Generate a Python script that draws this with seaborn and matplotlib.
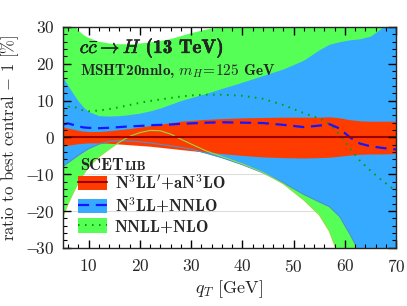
import numpy as np
import pandas as pd
import matplotlib
matplotlib.use("Agg")
import matplotlib.pyplot as plt
import matplotlib.patheffects as pe
import seaborn as sns
from matplotlib.patches import Patch
from matplotlib.lines import Line2D
from matplotlib.ticker import MultipleLocator, FuncFormatter

# ------------------ values ------------------
qT = [5, 6, 7, 8, 9, 10, 12, 14, 16, 18, 20, 22, 24, 26, 28, 30, 33, 36, 40,
      44, 48, 52, 55, 57, 59, 61, 63, 65, 67, 70]

# N3LL'+aN3LO band (red)
red_hi = [2.9, 2.5, 2.2, 1.9, 1.7, 1.6, 1.6, 1.8, 2.1, 2.4, 2.8, 3.2, 3.6, 4.0, 4.4,
          4.6, 4.9, 5.1, 5.3, 5.4, 5.5, 5.5, 5.5, 5.6, 5.3, 4.8, 4.5, 4.4, 4.4, 4.4]
red_lo = [-2.4, -2.1, -1.9, -1.7, -1.6, -1.5, -1.5, -1.6, -1.8, -2.0, -2.2, -2.4, -2.7,
          -3.0, -3.3, -3.6, -4.0, -4.4, -4.9, -5.3, -5.5, -5.6, -5.5, -5.4, -5.1, -4.8,
          -4.6, -4.5, -4.5, -4.4]

# N3LL+NNLO band (blue) and its central curve
blue_hi = [16.2, 14.0, 11.8, 9.8, 8.2, 7.0, 5.9, 5.8, 5.9, 6.2, 6.6, 7.2, 8.0, 9.0, 10.0,
           10.8, 12.0, 13.3, 15.0, 16.8, 18.6, 21.0, 23.8, 25.3, 26.0, 26.5, 26.8, 27.5,
           29.5, 33.0]
blue_lo = [-7.8, -6.8, -5.8, -4.8, -3.9, -3.0, -1.8, -1.1, -0.9, -1.0, -1.2, -1.5, -1.9,
           -2.3, -2.7, -3.2, -4.3, -5.5, -7.4, -9.6, -12.3, -15.5, -17.5, -18.8, -21.5,
           -26.3, -31.5, -36.0, -40.0, -45.0]
blue_c = [3.5, 3.8, 3.4, 3.0, 2.7, 2.6, 2.5, 2.6, 2.8, 3.0, 3.1, 3.3, 3.4, 3.5, 3.7,
          3.8, 4.0, 4.1, 4.0, 3.9, 3.4, 2.8, 3.2, 3.6, 2.4, 0.0, -1.7, -2.4, -2.8, -3.3]

# NNLL+NLO band (green) and its central curve
green_hi = [40.0, 36.0, 31.0, 29.0, 27.8, 27.0, 26.0, 25.5, 25.3, 25.3, 25.5, 25.8, 26.2,
            26.7, 27.5, 28.3, 29.3, 30.0, 30.4, 30.5, 30.2, 29.9, 30.8, 31.5, 32.3, 33.0,
            34.0, 35.0, 36.0, 37.0]
green_lo = [-21.4, -18.0, -15.0, -12.3, -10.0, -8.0, -5.3, -3.2, -1.3, 0.3, 1.3, 1.9, 1.8,
            0.9, -0.5, -1.8, -3.7, -5.2, -7.2, -9.5, -12.6, -17.0, -21.0, -25.5, -33.0,
            -38.0, -42.0, -45.0, -48.0, -50.0]
green_c = [7.0, 8.3, 8.4, 7.8, 7.3, 7.1, 7.3, 7.7, 8.2, 8.8, 9.4, 9.9, 10.3, 10.7, 11.1,
           11.4, 11.6, 11.6, 11.3, 10.5, 8.8, 6.6, 5.2, 3.6, 0.8, -3.0, -6.4, -9.0, -11.4,
           -14.6]

df = pd.DataFrame({"qT": qT, "red_hi": red_hi, "red_lo": red_lo,
                   "blue_hi": blue_hi, "blue_lo": blue_lo, "blue_c": blue_c,
                   "green_hi": green_hi, "green_lo": green_lo, "green_c": green_c})
df["red_c"] = 0.0

c_red, c_blue, c_green = "#ff3c00", "#36aaff", "#55ff55"

sns.set_style("ticks")
plt.rcParams["mathtext.fontset"] = "cm"
plt.rcParams["font.family"] = ["cmb10", "DejaVu Serif"]

fig = plt.figure(figsize=(4.07, 3.06), dpi=100)
ax = fig.add_axes([0.155, 0.19, 0.818, 0.722])

# light grid underneath everything
for yv in [-20, -10, 10, 20]:
    ax.axhline(yv, color="#dddddd", lw=0.8, zorder=0.3)

# bands
ax.fill_between(df.qT, df.green_lo, df.green_hi, color=c_green, lw=0, zorder=0.6)
ax.fill_between(df.qT, df.blue_lo, df.blue_hi, color=c_blue, lw=0, zorder=0.7)
ax.fill_between(df.qT, df.red_lo, df.red_hi, color=c_red, lw=0, zorder=0.8)
# lower edges show through on top
ax.plot(df.qT, df.blue_lo, color="#4f8fd0", lw=0.8, zorder=0.9)
ax.plot(df.qT, df.green_lo, color="#8fe040", lw=0.8, zorder=0.9)

# central curves
sns.lineplot(data=df, x="qT", y="green_c", ax=ax, color="#00a000", lw=1.4,
             linestyle=(0, (0.8, 2.8)), zorder=1.0)
sns.lineplot(data=df, x="qT", y="blue_c", ax=ax, color="#1515ff", lw=1.6,
             linestyle=(0, (5, 3)), zorder=1.1)
sns.lineplot(data=df, x="qT", y="red_c", ax=ax, color="#9a0000", lw=1.5, zorder=1.2)

ax.set_xlim(5, 70)
ax.set_ylim(-30, 30)
ax.xaxis.set_major_locator(MultipleLocator(10))
ax.xaxis.set_minor_locator(MultipleLocator(2))
ax.yaxis.set_major_locator(MultipleLocator(10))
ax.yaxis.set_minor_locator(MultipleLocator(2))
ax.set_axisbelow(False)
ax.tick_params(which="both", direction="in", top=True, right=True, color="black")
ax.tick_params(which="major", length=5.5, width=1.0, labelsize=12.5, pad=6)
ax.tick_params(axis="x", which="major", pad=7)
ax.tick_params(which="minor", length=3, width=0.8)
ax.yaxis.set_major_formatter(FuncFormatter(
    lambda v, p: r"$\mathbf{%d}$" % v if v >= 0 else r"$-\!\mathbf{%d}$" % abs(v)))
ax.xaxis.set_major_formatter(FuncFormatter(lambda v, p: r"$\mathbf{%d}$" % v))
for s in ax.spines.values():
    s.set_linewidth(1.0)
    s.set_zorder(3)

ax.set_xlabel(r"$q_T$ [GeV]", fontsize=13, family="cmr10", labelpad=3)
ax.set_ylabel(r"ratio to best central $-$ 1 [%]", fontsize=12, family="cmr10")
ax.yaxis.set_label_coords(-0.125, 0.5)

bold = [pe.withStroke(linewidth=0.3, foreground="black")]
ax.text(0.05, 0.905, r"$c\bar{c} \to H$ (13 TeV)", transform=ax.transAxes,
        fontsize=14, va="center", zorder=10, path_effects=bold)
ax.text(0.05, 0.8, r"MSHT20nnlo, $m_H\!=\!\mathbf{125}$ GeV", transform=ax.transAxes,
        fontsize=11, va="center", zorder=10)

t = ax.text(0.05, 0.375, "SCET", transform=ax.transAxes, fontsize=12, va="center",
            zorder=10)
ax.annotate("LIB", xy=(1, 0), xycoords=t, xytext=(0.5, 0), textcoords="offset points",
            fontsize=9, va="bottom", zorder=10)

handles = [
    (Patch(color=c_red, lw=0), Line2D([], [], color="#9a0000", lw=1.5)),
    (Patch(color=c_blue, lw=0), Line2D([], [], color="#1515ff", lw=1.6, ls=(0, (5, 3)))),
    (Patch(color=c_green, lw=0), Line2D([], [], color="#00a000", lw=1.4, ls=(0, (0.8, 2.8)))),
]
labels = [r"N$^\mathbf{3}$LL$'$+aN$^\mathbf{3}$LO", r"N$^\mathbf{3}$LL+NNLO", "NNLL+NLO"]
leg = ax.legend(handles, labels, loc="upper left", bbox_to_anchor=(0.045, 0.34),
                frameon=False, fontsize=12, handlelength=1.75, handleheight=0.95,
                labelspacing=0.2, handletextpad=0.45, borderaxespad=0, borderpad=0)
leg.set_zorder(10)

fig.savefig("out.png", dpi=100)
